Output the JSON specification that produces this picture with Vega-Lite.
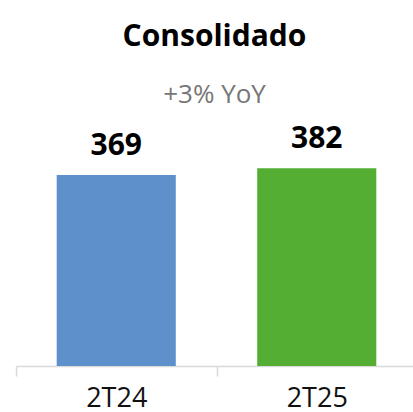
{
  "$schema": "https://vega.github.io/schema/vega-lite/v6.json",
  "autosize": "none",
  "width": 397,
  "height": 246,
  "padding": {"left": 16, "right": 0, "top": 120, "bottom": 46},
  "background": "white",
  "config": {
    "view": {"stroke": null},
    "font": "Open Sans"
  },
  "title": {
    "text": "Consolidado",
    "subtitle": "+3% YoY",
    "fontSize": 30,
    "fontWeight": "bold",
    "color": "#000000",
    "subtitleFontSize": 26,
    "subtitleColor": "#777777",
    "subtitlePadding": 30,
    "offset": 12,
    "anchor": "middle",
    "font": "Open Sans",
    "subtitleFont": "Open Sans"
  },
  "data": {
    "values": [
      {"periodo": "2T24", "valor": 369},
      {"periodo": "2T25", "valor": 382}
    ]
  },
  "encoding": {
    "x": {
      "field": "periodo",
      "type": "nominal",
      "sort": null,
      "scale": {"paddingInner": 0, "paddingOuter": 0, "range": [0, 401]},
      "axis": {
        "title": null,
        "labelAngle": 0,
        "tickBand": "extent",
        "domainColor": "#D9D9D9",
        "tickColor": "#D9D9D9",
        "domainWidth": 1.5,
        "tickWidth": 1.5,
        "tickSize": 10,
        "labelFontSize": 27,
        "labelColor": "#111111",
        "labelPadding": 9,
        "labelFont": "Open Sans"
      }
    },
    "y": {
      "field": "valor",
      "type": "quantitative",
      "scale": {"domain": [0, 475], "nice": false},
      "axis": null
    }
  },
  "layer": [
    {
      "mark": {"type": "bar", "width": {"band": 0.594}},
      "encoding": {
        "color": {
          "field": "periodo",
          "type": "nominal",
          "scale": {"domain": ["2T24", "2T25"], "range": ["#5E91CC", "#53AE33"]},
          "legend": null
        }
      }
    },
    {
      "mark": {"type": "text", "dy": -20, "baseline": "alphabetic", "fontSize": 30, "fontWeight": "bold", "color": "#000000", "font": "Open Sans"},
      "encoding": {"text": {"field": "valor", "type": "quantitative"}}
    }
  ]
}
